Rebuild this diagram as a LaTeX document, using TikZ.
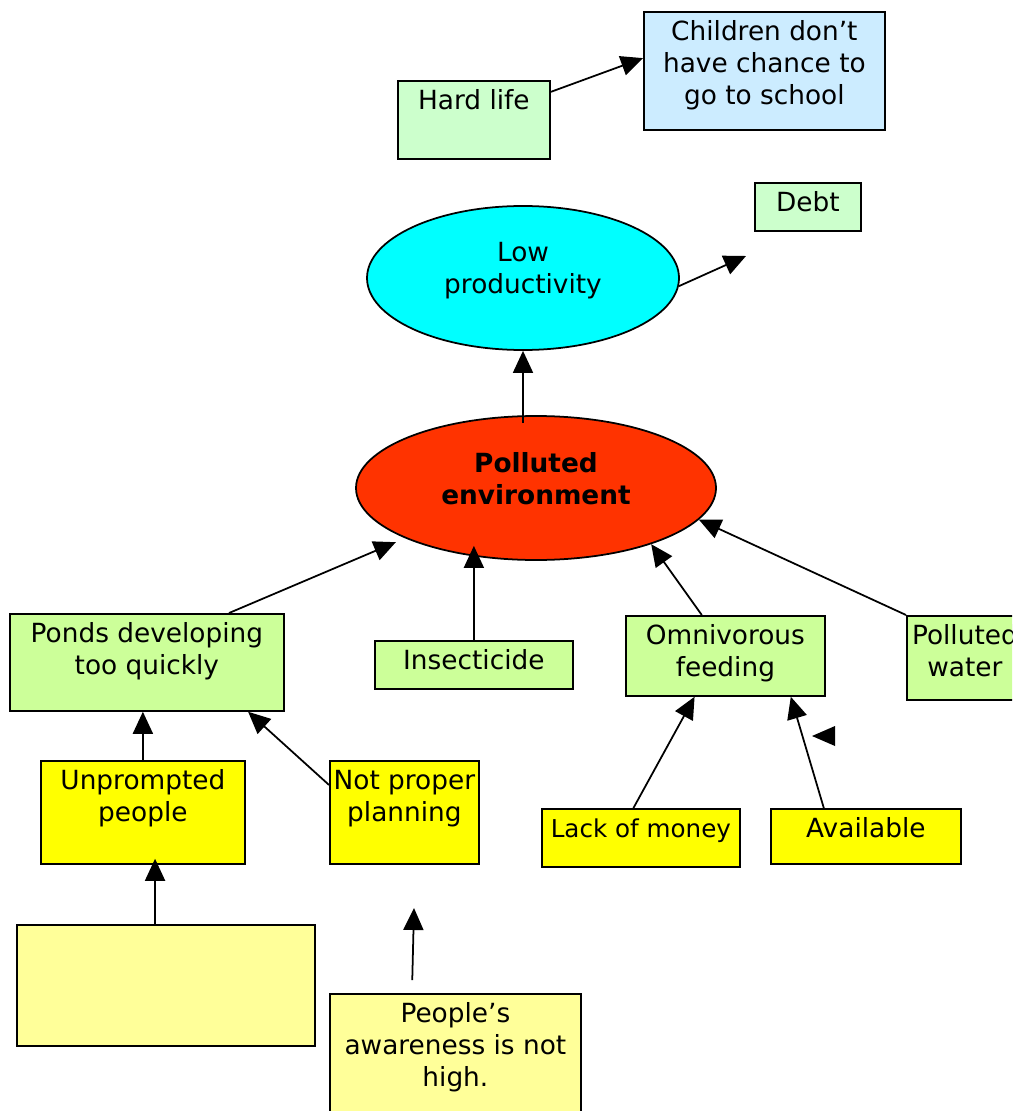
\documentclass[tikz,border=0pt]{standalone}
\usepackage{fontspec}
\setmainfont{DejaVu Sans}
\usetikzlibrary{arrows.meta, shapes.geometric}

\definecolor{mint}{HTML}{CCFFCC}
\definecolor{skyish}{HTML}{CCECFF}
\definecolor{lime}{HTML}{CCFF99}
\definecolor{lemon}{HTML}{FFFF00}
\definecolor{cream}{HTML}{FFFF99}
\definecolor{aqua}{HTML}{00FFFF}
\definecolor{redorange}{HTML}{FF3300}

\newlength\pxu
\setlength\pxu{0.02cm}
\newcommand{\btext}[3]{\parbox[c][#2\pxu][t]{#1\pxu}{\centering\vspace*{6\pxu}\strut #3}}

\begin{document}
\begin{tikzpicture}[x=0.02cm, y=-0.02cm, line width=1pt,
    >={Triangle[length=0.44cm,width=0.4cm]},
    every node/.style={font=\fontsize{15}{18.2}\selectfont},
    box/.style={draw, anchor=north west, inner sep=0pt},
    oval/.style={draw, ellipse, align=center, inner sep=0pt}]
        \clip (0,0) rectangle (1012,1111);
        \node[box, fill=mint] (hardlife) at (397,80) {\btext{152}{78}{Hard life}};
        \node[box, fill=skyish] (children) at (643,11) {\btext{241}{118}{Children don’t\\have chance to\\go to school}};
        \node[box, fill=mint] (debt) at (754,182) {\btext{106}{48}{Debt}};
        \node[oval, fill=aqua, minimum width=312\pxu, minimum height=144\pxu] (lowprod) at (523,278) {Low\\productivity\rule[-20\pxu]{0pt}{0pt}};
        \node[oval, fill=redorange, minimum width=360\pxu, minimum height=144\pxu, font=\fontsize{15}{18.2}\selectfont\bfseries] (polluted) at (536,488) {Polluted\\environment\rule[-20\pxu]{0pt}{0pt}};
        \node[box, fill=lime] (ponds) at (9,613) {\btext{274}{97}{Ponds developing\\too quickly}};
        \node[box, fill=lime] (insect) at (374,640) {\btext{198}{48}{Insecticide}};
        \node[box, fill=lime] (omni) at (625,615) {\btext{199}{80}{Omnivorous\\feeding}};
        \node[box, fill=lime] (pwater) at (906,615) {\btext{116}{84}{Polluted\\water}};
        \node[box, fill=lemon] (unprompted) at (40,760) {\btext{204}{103}{Unprompted\\people}};
        \node[box, fill=lemon] (notplan) at (329,760) {\btext{149}{103}{Not proper\\planning}};
        \node[box, fill=lemon] (lack) at (541,808) {\btext{198}{58}{\fontsize{14}{18.2}\selectfont Lack of money}};
        \node[box, fill=lemon] (avail) at (770,808) {\btext{190}{55}{Available}};
        \node[box, fill=cream] (empty) at (16,924) {\btext{298}{121}{}};
        \node[box, fill=cream] (awareness) at (329,993) {\btext{251}{132}{People’s\\awareness is not\\high.}};
        \coordinate (debtend) at (746,256);
        \coordinate (awaretip) at (414,908);
        \draw[->] (hardlife.20) -- (children.174);
        \draw[->] (lowprod.-3) -- (debtend);
        \draw[->] ([yshift=-0.16cm]polluted.north -| lowprod.south) -- (lowprod.south);
        \draw[->, shorten >=0.2cm] (ponds.31) -- (polluted.201);
        \draw[->] (insect.north) -- ([yshift=0.3cm]insect.north |- polluted.south);
        \draw[->] (omni.120) -- (polluted.-26);
        \draw[->] (pwater.north west) -- (polluted.-11);
        \draw[->] (unprompted.north) -- (unprompted.north |- ponds.south);
        \draw[->] (notplan.160) -- (ponds.-26);
        \draw[->] (empty.100) -- ([yshift=0.12cm]empty.100 |- unprompted.south);
        \draw[->] (lack.104) -- (omni.233);
        \draw[->] (avail.146) -- (omni.-32);
        \draw[->, shorten <=0.26cm] (awareness.123) -- (awaretip);
        \fill (835,726) -- (835,746) -- (812,736) -- cycle;
    \end{tikzpicture}
\end{document}
